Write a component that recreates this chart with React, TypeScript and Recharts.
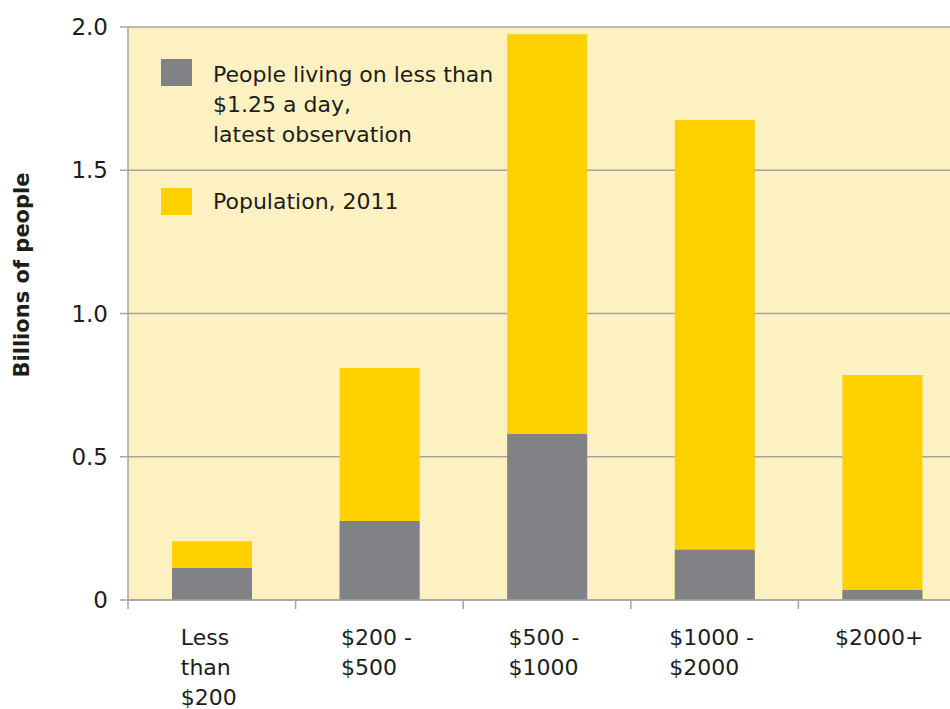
import { Bar, BarChart, CartesianGrid, Legend, XAxis, YAxis } from "recharts";

const categories = [
	"Less\nthan\n$200",
	"$200 -\n$500",
	"$500 -\n$1000",
	"$1000 -\n$2000",
	"$2000+",
];
const population2011 = [0.205, 0.81, 1.975, 1.675, 0.785];
const under125 = [0.112, 0.276, 0.579, 0.175, 0.035];
const yTicks = [0, 0.5, 1, 1.5, 2];

const popName = "Population, 2011";
const poorName = "People living on less than\n$1.25 a day,\nlatest observation";
const legendOrder = [poorName, popName];

const FONT = "'DejaVu Sans', sans-serif";
const TEXT = "#1d1d1b";
const AXIS = "#a2a4a7";
const YELLOW = "#ffd100";
const GREY = "#818285";
const BG = "#fef1c1";

const data = categories.map((category, i) => ({
	category,
	population: population2011[i],
	poor: under125[i],
}));

let ctx: CanvasRenderingContext2D | null = null;
function measure(s: string): number {
	if (!ctx) ctx = document.createElement("canvas").getContext("2d");
	if (!ctx) return s.length * 13;
	ctx.font = `22px ${FONT}`;
	return ctx.measureText(s).width;
}

function CategoryTick(props: any) {
	const { x, y, payload, index, visibleTicksCount } = props;
	const lines = String(payload.value).split("\n");
	const half = payload.offset ?? 0;
	const w = Math.max(...lines.map(measure));
	const left = x - w / 2 - 3;
	return (
		<g>
			<line x1={x - half} x2={x - half} y1={y - 9} y2={y} stroke={AXIS} strokeWidth={1.5} />
			{index === visibleTicksCount - 1 && (
				<line x1={x + half} x2={x + half} y1={y - 9} y2={y} stroke={AXIS} strokeWidth={1.5} />
			)}
			<text x={left} y={y} fontSize={22} fill={TEXT} fontFamily={FONT}>
				{lines.map((l, i) => (
					<tspan key={i} x={left} y={y + 36 + i * 30}>
						{l}
					</tspan>
				))}
			</text>
		</g>
	);
}

function AxisTitle() {
	return (
		<text
			transform="translate(22,275) rotate(-90)"
			textAnchor="middle"
			dominantBaseline="central"
			fontSize={21}
			fontWeight="bold"
			fill={TEXT}
			fontFamily={FONT}
		>
			Billions of people
		</text>
	);
}

function LegendBox({ payload }: any) {
	const items = [...(payload ?? [])].sort(
		(a: any, b: any) => legendOrder.indexOf(a.value) - legendOrder.indexOf(b.value),
	);
	return (
		<div style={{ fontFamily: FONT, fontSize: 22, lineHeight: "30px", color: TEXT }}>
			{items.map((it: any, i: number) => (
				<div
					key={i}
					style={{ display: "flex", alignItems: "flex-start", marginTop: i === 0 ? 0 : 37 }}
				>
					<span
						style={{
							width: 31,
							height: 27,
							background: it.color,
							flex: "none",
							marginRight: 21,
							marginTop: i === 0 ? 0 : 1,
						}}
					/>
					<span style={{ whiteSpace: "pre-line", marginTop: i === 0 ? 1 : 0 }}>{it.value}</span>
				</div>
			))}
		</div>
	);
}

export default function App() {
	return (
		<div
			style={{
				position: "absolute",
				left: 0,
				top: 0,
				width: 950,
				height: 709,
				overflow: "hidden",
				background: "#fff",
				fontFamily: FONT,
			}}
		>
			<BarChart
				width={980}
				height={709}
				data={data}
				margin={{ top: 27, right: 14, left: 0, bottom: 0 }}
			>
				<CartesianGrid vertical={false} fill={BG} stroke={AXIS} strokeWidth={1.5} />
				<XAxis
					xAxisId="pop"
					dataKey="category"
					height={109}
					interval={0}
					tickSize={9}
					tickMargin={0}
					tickLine={false}
					axisLine={{ stroke: AXIS, strokeWidth: 1.5 }}
					tick={<CategoryTick />}
				/>
				<XAxis xAxisId="poor" dataKey="category" orientation="top" height={0} hide />
				<YAxis
					width={128}
					domain={[0, 2]}
					ticks={yTicks}
					tickFormatter={(v: number) => (v === 0 ? "0" : v.toFixed(1))}
					tick={{ fontSize: 23, fill: TEXT, fontFamily: FONT }}
					tickSize={8}
					tickMargin={12}
					tickLine={{ stroke: AXIS, strokeWidth: 1.5 }}
					axisLine={{ stroke: AXIS, strokeWidth: 1.5 }}
					label={<AxisTitle />}
				/>
				<Legend
					layout="vertical"
					align="center"
					verticalAlign="middle"
					content={<LegendBox />}
					wrapperStyle={{ left: 161, top: 59, width: "auto", margin: 0 }}
				/>
				<Bar
					xAxisId="pop"
					dataKey="population"
					name={popName}
					fill={YELLOW}
					barSize={80}
					isAnimationActive={false}
				/>
				<Bar
					xAxisId="poor"
					dataKey="poor"
					name={poorName}
					fill={GREY}
					barSize={80}
					isAnimationActive={false}
				/>
			</BarChart>
		</div>
	);
}
